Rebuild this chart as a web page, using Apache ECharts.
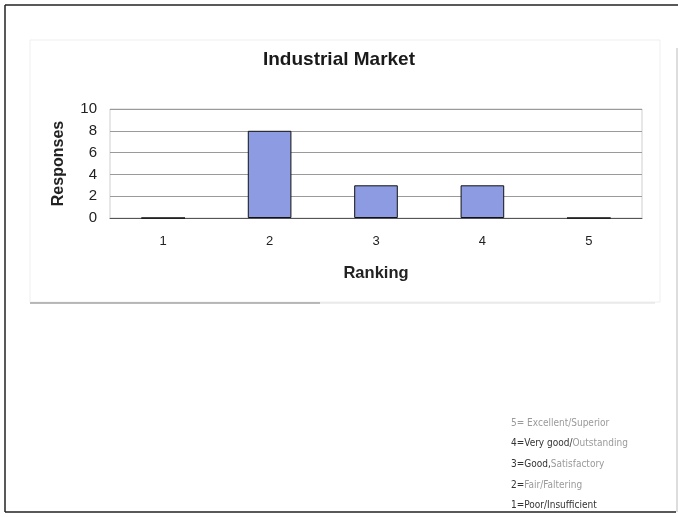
<!DOCTYPE html>
<html>
<head>
<meta charset="utf-8">
<script src="https://cdn.jsdelivr.net/npm/echarts@6/dist/echarts.min.js"></script>
<style>
  html, body { margin: 0; padding: 0; background: #fff; }
  #chart { width: 678px; height: 517px; }
</style>
</head>
<body>
<div id="chart"></div>
<script>
// Survey answers for the industrial market, by ranking score
const rankings = ['1', '2', '3', '4', '5'];
const responses = [0, 8, 3, 3, 0];
const yTicks = [0, 2, 4, 6, 8, 10];

// Scale key shown in the lower right: [dark part, faded part]
const keyLines = [
  ['', '5= Excellent/Superior'],
  ['4=Very good/', 'Outstanding'],
  ['3=Good,', 'Satisfactory'],
  ['2=', 'Fair/Faltering'],
  ['1=Poor/Insufficient', '']
];

const chart = echarts.init(document.getElementById('chart'), null, { renderer: 'canvas' });

const keyFont = 'DejaVu Sans Condensed, Liberation Sans, sans-serif';
const keyGraphics = keyLines.map((parts, i) => ({
  type: 'text',
  left: 511,
  top: 418 + i * 20.7,
  style: {
    rich: {
      d: { fill: '#333', fontSize: 10, fontFamily: keyFont },
      f: { fill: '#9a9a9a', fontSize: 10, fontFamily: keyFont }
    },
    text: (parts[0] ? '{d|' + parts[0] + '}' : '') + (parts[1] ? '{f|' + parts[1] + '}' : '')
  }
}));

const mainFont = 'Liberation Sans, Arial, sans-serif';

chart.setOption({
  backgroundColor: '#fff',
  animation: false,
  title: {
    text: 'Industrial Market',
    left: 'center',
    top: 45,
    textStyle: { fontFamily: mainFont, fontSize: 19, fontWeight: 'bold', color: '#1a1a1a' }
  },
  grid: { left: 110, right: 36, top: 109, bottom: 299, show: true, borderColor: '#cfcfcf', borderWidth: 1, backgroundColor: 'transparent' },
  xAxis: {
    type: 'category',
    data: rankings,
    name: 'Ranking',
    nameLocation: 'middle',
    nameGap: 47,
    nameTextStyle: { fontFamily: mainFont, fontSize: 16.5, fontWeight: 'bold', color: '#222' },
    axisLine: { show: true, lineStyle: { color: '#555', width: 1 } },
    axisTick: { show: false },
    axisLabel: { margin: 17, fontFamily: mainFont, fontSize: 13, color: '#222' },
    splitLine: { show: false }
  },
  yAxis: {
    type: 'value',
    min: yTicks[0],
    max: yTicks[yTicks.length - 1],
    interval: 2,
    name: 'Responses',
    nameLocation: 'middle',
    nameRotate: 90,
    nameGap: 43,
    nameTextStyle: { fontFamily: mainFont, fontSize: 16, fontWeight: 'bold', color: '#222' },
    axisLine: { show: false },
    axisTick: { show: false },
    axisLabel: { margin: 13, fontFamily: mainFont, fontSize: 15, color: '#222' },
    splitLine: { show: true, lineStyle: { color: '#9a9a9a', width: 1 } }
  },
  series: [{
    type: 'bar',
    data: responses,
    barWidth: '41%',
    itemStyle: { color: '#8d9be2', borderColor: '#111', borderWidth: 1 }
  }],
  graphic: [
    // faint chart-area box
    { type: 'rect', shape: { x: 30, y: 40, width: 630, height: 262 }, style: { fill: 'none', stroke: '#efefef', lineWidth: 1 }, z: -1 },
    // divider under the chart area
    { type: 'line', shape: { x1: 30, y1: 303, x2: 320, y2: 303 }, style: { stroke: '#777', lineWidth: 1 } },
    { type: 'line', shape: { x1: 320, y1: 303, x2: 655, y2: 303 }, style: { stroke: '#ddd', lineWidth: 1 } },
    // page frame
    { type: 'line', shape: { x1: 5, y1: 5, x2: 678, y2: 5 }, style: { stroke: '#222', lineWidth: 1.5 } },
    { type: 'line', shape: { x1: 5, y1: 5, x2: 5, y2: 512 }, style: { stroke: '#222', lineWidth: 1.5 } },
    { type: 'line', shape: { x1: 5, y1: 512, x2: 676, y2: 512 }, style: { stroke: '#222', lineWidth: 1.5 } },
    { type: 'line', shape: { x1: 677, y1: 48, x2: 677, y2: 512 }, style: { stroke: '#bbb', lineWidth: 1 } }
  ].concat(keyGraphics)
});
</script>
</body>
</html>
